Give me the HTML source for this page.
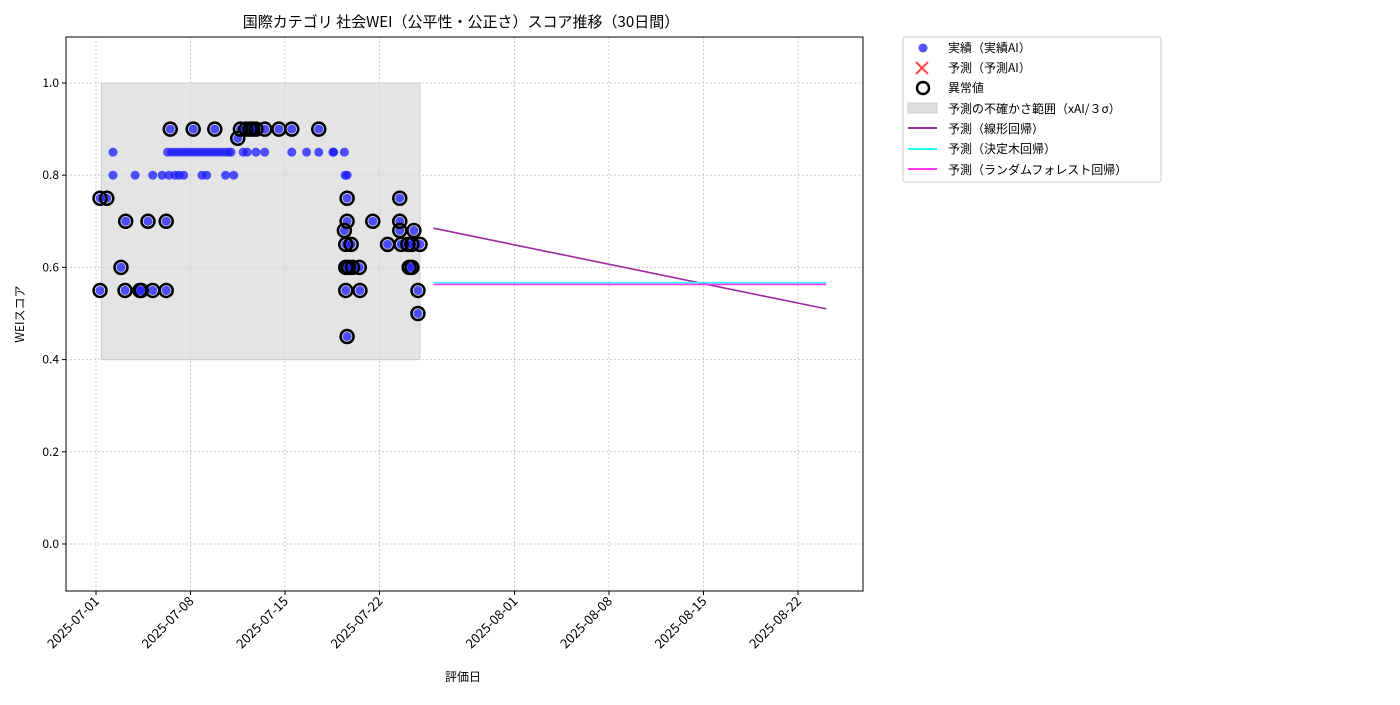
<!DOCTYPE html>
<html><head><meta charset="utf-8"><style>
body{margin:0;background:#fff;font-family:"Noto Sans CJK JP","Liberation Sans",sans-serif;}
svg text{font-family:"Noto Sans CJK JP","Liberation Sans",sans-serif;}
</style></head><body>
<svg id="chart" width="1400" height="700" xmlns="http://www.w3.org/2000/svg">
<text x="461" y="27" font-size="15" text-anchor="middle">国際カテゴリ 社会WEI（公平性・公正さ）スコア推移（30日間）</text>
<g id="grid"></g><g id="band"></g><g id="marks"></g><g id="axes"></g>
<text x="463" y="681" font-size="12" text-anchor="middle">評価日</text>
<text transform="translate(24,314) rotate(-90)" font-size="12" text-anchor="middle">WEIスコア</text>
<g>
<rect x="903" y="37" width="258" height="145" fill="#fff" stroke="#ccc" rx="2"/>
<circle cx="923" cy="48" r="4.5" fill="#1a1aff" fill-opacity="0.75"/>
<text x="948" y="52" font-size="12">実績（実績AI）</text>
<path d="M916 62 L928 74 M928 62 L916 74" stroke="#ff4444" stroke-width="2"/>
<text x="948" y="72" font-size="12">予測（予測AI）</text>
<circle cx="923" cy="88" r="6" fill="none" stroke="#000" stroke-width="2.5"/>
<text x="948" y="92" font-size="12">異常値</text>
<rect x="908" y="103" width="29" height="10" fill="#e0e0e0" stroke="#ccc"/>
<text x="948" y="113" font-size="12">予測の不確かさ範囲（xAI/３σ）</text>
<line x1="908" y1="128" x2="937" y2="128" stroke="#9b2a9b" stroke-width="2"/>
<text x="948" y="133" font-size="12">予測（線形回帰）</text>
<line x1="908" y1="149" x2="937" y2="149" stroke="#22ffff" stroke-width="2"/>
<text x="948" y="153" font-size="12">予測（決定木回帰）</text>
<line x1="908" y1="169" x2="937" y2="169" stroke="#ff33ff" stroke-width="2"/>
<text x="948" y="174" font-size="12">予測（ランダムフォレスト回帰）</text>
</g>
</svg>
<script>
// days since 2025-07-01
const anomalyDays=[0.3,0.8,0.3,2.15,3.25,3.35,4.2,5.2,1.85,2.2,3.85,5.2,5.5,7.2,8.8,10.7,11.1,11.4,11.6,11.85,12.5,13.55,14.5,16.5,10.5,18.6,18.5,19.55,18.5,18.7,19.0,19.5,18.5,18.9,18.4,18.6,20.5,18.6,22.5,21.6,22.6,23.1,23.4,24.0,22.5,23.55,22.5,23.2,23.4,23.85,23.85];
const anomalyVals=[0.75,0.75,0.55,0.55,0.55,0.55,0.55,0.55,0.6,0.7,0.7,0.7,0.9,0.9,0.9,0.9,0.9,0.9,0.9,0.9,0.9,0.9,0.9,0.9,0.88,0.45,0.55,0.55,0.6,0.6,0.6,0.6,0.65,0.65,0.68,0.7,0.7,0.75,0.75,0.65,0.65,0.65,0.65,0.65,0.68,0.68,0.7,0.6,0.6,0.55,0.5];
const normalDays=[1.26,5.3,5.6,5.9,6.2,6.5,6.8,7.1,7.4,7.7,8.0,8.3,8.6,8.9,9.2,9.5,9.8,10.0,10.9,11.2,11.85,12.5,14.5,15.6,16.5,17.55,17.6,18.4,1.26,2.9,4.2,4.9,5.4,5.85,6.15,6.5,7.85,8.2,9.6,10.2,18.45,18.6];
const normalVals=[0.85,0.85,0.85,0.85,0.85,0.85,0.85,0.85,0.85,0.85,0.85,0.85,0.85,0.85,0.85,0.85,0.85,0.85,0.85,0.85,0.85,0.85,0.85,0.85,0.85,0.85,0.85,0.85,0.8,0.8,0.8,0.8,0.8,0.8,0.8,0.8,0.8,0.8,0.8,0.8,0.8,0.8];
const xTickDays=[0,7,14,21,31,38,45,52];
const xTickLabels=["2025-07-01","2025-07-08","2025-07-15","2025-07-22","2025-08-01","2025-08-08","2025-08-15","2025-08-22"];
const yTicks=[0,0.2,0.4,0.6,0.8,1.0];
const bandDays=[0.4,24.0];
const bandVals=[0.40,1.0];
const predDays=[25.0,54.1];
const linearVals=[0.685,0.51];
const treeVals=[0.567,0.567];
const forestVals=[0.563,0.563];

const L=66,R=863,T=37,B=591;
const xs=d=>96+d*13.5;
const ys=v=>544-v*461;
const NS='http://www.w3.org/2000/svg';
function mk(tag,attrs,parent){const e=document.createElementNS(NS,tag);for(const k in attrs)e.setAttribute(k,attrs[k]);parent.appendChild(e);return e;}
const grid=document.getElementById('grid'),band=document.getElementById('band'),marks=document.getElementById('marks'),axes=document.getElementById('axes');
xTickDays.forEach((d,i)=>{
  const gl=mk('line',{x1:xs(d),x2:xs(d),y1:T,y2:B,stroke:'#ccc','stroke-dasharray':'2,2'},grid);
  
  
  const tk=mk('line',{x1:xs(d),x2:xs(d),y1:B,y2:B+4,stroke:'#000'},axes);
  
  
  const t=mk('text',{x:xs(d)+4,y:B+11,'font-size':13,'text-anchor':'end',transform:`rotate(-45 ${xs(d)+4} ${B+11})`},axes);
  t.textContent=xTickLabels[i];
  
  
});
yTicks.forEach(v=>{
  const gl=mk('line',{x1:L,x2:R,y1:ys(v),y2:ys(v),stroke:'#ccc','stroke-dasharray':'2,2'},grid);
  
  
  const tk=mk('line',{x1:L-4,x2:L,y1:ys(v),y2:ys(v),stroke:'#000'},axes);
  
  
  const t=mk('text',{x:L-7,y:ys(v)+4,'font-size':12,'text-anchor':'end'},axes);
  t.textContent=v.toFixed(1);
  
  
});
const br=mk('rect',{x:xs(bandDays[0]),y:ys(bandVals[1]),width:xs(bandDays[1])-xs(bandDays[0]),height:ys(bandVals[0])-ys(bandVals[1]),fill:'#d8d8d8','fill-opacity':0.7,stroke:'#ccc'},band);


normalDays.forEach((d,i)=>{
  const c=mk('circle',{cx:xs(d),cy:ys(normalVals[i]),r:4.5,fill:'#1a1aff','fill-opacity':0.75},marks);
  
  
});
anomalyDays.forEach((d,i)=>{
  const c=mk('circle',{cx:xs(d),cy:ys(anomalyVals[i]),r:4.5,fill:'#1a1aff','fill-opacity':0.75},marks);
  
  
});
anomalyDays.forEach((d,i)=>{
  const c=mk('circle',{cx:xs(d),cy:ys(anomalyVals[i]),r:6.5,fill:'none',stroke:'#000','stroke-width':2.5},marks);
  
  
});
[[linearVals,'#9b2a9b','linear-regression-line'],[treeVals,'#22ffff','decision-tree-line'],[forestVals,'#ff33ff','random-forest-line']].forEach(([vals,col,name])=>{
  const ln=mk('line',{x1:xs(predDays[0]),y1:ys(vals[0]),x2:xs(predDays[1]),y2:ys(vals[1]),stroke:col,'stroke-width':1.6},marks);
  
  
});
const fr=mk('rect',{x:L,y:T,width:R-L,height:B-T,fill:'none',stroke:'#000'},axes);


</script>
</body></html>
